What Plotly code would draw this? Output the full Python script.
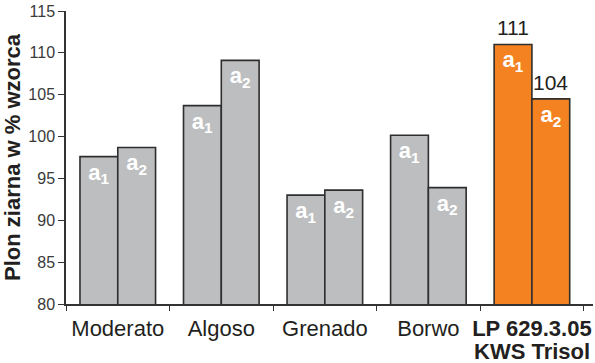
import plotly.graph_objects as go

categories = ["Moderato", "Algoso", "Grenado", "Borwo", "LP 629.3.05"]
tick_labels = ["Moderato", "Algoso", "Grenado", "Borwo", "<b>LP 629.3.05</b>"]
second_line = "<b>KWS Trisol</b>"
a1_values = [97.6, 103.7, 93.0, 100.15, 111.0]
a2_values = [98.7, 109.1, 93.6, 93.9, 104.5]
a1_label = "<b>a<sub>1</sub></b>"
a2_label = "<b>a<sub>2</sub></b>"
highlight_values = {"a1": "111", "a2": "104"}

GRAY = "#BDBEC0"
ORANGE = "#F58220"
colors = [GRAY, GRAY, GRAY, GRAY, ORANGE]
FONT = "Liberation Sans, Arial, Helvetica, sans-serif"

fig = go.Figure()
for name, vals, lab in [("a1", a1_values, a1_label), ("a2", a2_values, a2_label)]:
    fig.add_trace(go.Bar(
        x=categories, y=vals, name=name,
        marker=dict(color=colors, line=dict(color="#2E2E2E", width=1.6)),
        text=[lab] * len(vals), textposition="inside", insidetextanchor="end",
        textangle=0, constraintext="none",
        insidetextfont=dict(family=FONT, size=22, color="white"),
        hoverinfo="x+y",
    ))

W, H = 595, 363
ml, mr, mt, mb = 66, 2, 11, 59
xr = [-0.5, 4.59]
bargap = 0.27
px_per_cat = (W - ml - mr) / (xr[1] - xr[0])
half = (1 - bargap) / 2 * px_per_cat / 2

fig.add_annotation(x=categories[-1], y=a1_values[-1], text=highlight_values["a1"],
                   showarrow=False, yanchor="bottom", xshift=-half, yshift=3,
                   font=dict(family=FONT, size=21, color="#231F20"))
fig.add_annotation(x=categories[-1], y=a2_values[-1], text=highlight_values["a2"],
                   showarrow=False, yanchor="bottom", xshift=half, yshift=3,
                   font=dict(family=FONT, size=21, color="#231F20"))
fig.add_annotation(x=categories[-1], xref="x", y=0, yref="paper", text=second_line,
                   showarrow=False, yanchor="top", yshift=-33,
                   font=dict(family=FONT, size=22, color="#231F20"))

fig.update_layout(
    width=W, height=H, margin=dict(l=ml, r=mr, t=mt, b=mb),
    barmode="group", bargap=bargap, bargroupgap=0,
    showlegend=False, plot_bgcolor="white", paper_bgcolor="white",
    font=dict(family=FONT),
    xaxis=dict(
        range=xr, tickmode="array", tickvals=categories, ticktext=tick_labels,
        tickson="boundaries", ticks="outside", ticklen=5, tickwidth=1.2, tickcolor="#333",
        showline=True, linecolor="#333", linewidth=1.5, tickangle=0, automargin=False,
        ticklabelstandoff=4,
        tickfont=dict(family=FONT, size=22, color="#231F20"),
        showgrid=False, zeroline=False,
    ),
    yaxis=dict(
        range=[80, 115], dtick=5, tick0=80, ticks="outside", ticklen=6, tickwidth=1.2,
        tickcolor="#333", showline=True, linecolor="#333", linewidth=1.5, automargin=False,
        tickfont=dict(family=FONT, size=16, color="#3a3a3a"),
        showgrid=False, zeroline=False,
        title=dict(text="<b>Plon ziarna w % wzorca</b>", standoff=4,
                   font=dict(family=FONT, size=22, color="#231F20")),
    ),
)

fig.write_html("out.html")
